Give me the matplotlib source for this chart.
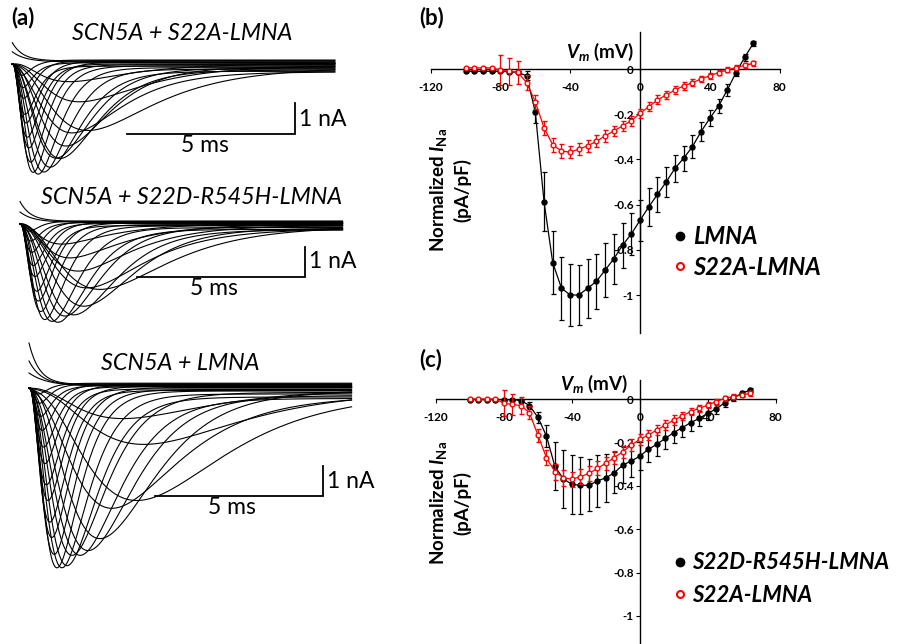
import numpy as np
import matplotlib
matplotlib.use('Agg')
import matplotlib.pyplot as plt
from matplotlib.lines import Line2D

plt.rcParams['font.family'] = ['Lato', 'DejaVu Sans']
plt.rcParams['mathtext.fontset'] = 'custom'
plt.rcParams['mathtext.it'] = 'Lato:italic:bold'
plt.rcParams['mathtext.rm'] = 'Lato:bold'
plt.rcParams['mathtext.bf'] = 'Lato:bold'

# ---------------- data: I-V curves ----------------
voltages = list(range(-100, 70, 5))
xticks_iv = [-120, -80, -40, 0, 40, 80]
yticks_iv = [0, -0.2, -0.4, -0.6, -0.8, -1]
ytick_labels = ['0', '-0.2', '-0.4', '-0.6', '-0.8', '-1']

lmna_b = [-0.01, -0.01, -0.01, -0.01, -0.01, -0.012, -0.015, -0.03, -0.19, -0.587,
          -0.857, -0.97, -1.0, -1.0, -0.97, -0.94, -0.89, -0.84, -0.78, -0.73,
          -0.67, -0.61, -0.555, -0.50, -0.44, -0.395, -0.344, -0.277, -0.218, -0.164,
          -0.093, -0.016, 0.052, 0.114]
lmna_b_err = [0.005, 0.005, 0.005, 0.005, 0.005, 0.005, 0.005, 0.02, 0.05, 0.13,
              0.14, 0.14, 0.135, 0.133, 0.13, 0.12, 0.118, 0.11, 0.10, 0.095,
              0.09, 0.083, 0.076, 0.065, 0.06, 0.055, 0.05, 0.042, 0.035, 0.03,
              0.025, 0.015, 0.015, 0.012]
s22a_b = [0.005, 0.005, 0.005, 0.005, -0.005, -0.01, -0.015, -0.06, -0.145, -0.26,
          -0.336, -0.363, -0.368, -0.354, -0.34, -0.32, -0.296, -0.274, -0.252, -0.229,
          -0.196, -0.167, -0.137, -0.115, -0.093, -0.075, -0.061, -0.044, -0.03, -0.016,
          -0.004, 0.006, 0.016, 0.025]
s22a_b_err = [0.005, 0.005, 0.005, 0.005, 0.065, 0.06, 0.05, 0.035, 0.03, 0.03,
              0.03, 0.03, 0.028, 0.027, 0.026, 0.026, 0.025, 0.024, 0.023, 0.022,
              0.021, 0.02, 0.02, 0.018, 0.017, 0.016, 0.015, 0.014, 0.013, 0.012,
              0.011, 0.01, 0.01, 0.01]
s22d_c = [-0.003, -0.003, -0.003, -0.003, -0.003, -0.003, -0.007, -0.03, -0.084, -0.17,
          -0.31, -0.368, -0.393, -0.398, -0.398, -0.378, -0.363, -0.34, -0.304, -0.286,
          -0.263, -0.232, -0.209, -0.181, -0.155, -0.132, -0.109, -0.089, -0.066, -0.046,
          -0.017, 0.005, 0.026, 0.041]
s22d_c_err = [0.004, 0.004, 0.004, 0.004, 0.004, 0.004, 0.004, 0.015, 0.025, 0.05,
              0.11, 0.135, 0.137, 0.13, 0.12, 0.118, 0.11, 0.095, 0.085, 0.075,
              0.065, 0.06, 0.055, 0.05, 0.048, 0.045, 0.04, 0.035, 0.03, 0.025,
              0.02, 0.012, 0.01, 0.01]
s22a_c = [0.0, 0.0, 0.0, 0.0, -0.02, -0.025, -0.03, -0.063, -0.166, -0.27,
          -0.335, -0.363, -0.37, -0.358, -0.343, -0.32, -0.296, -0.27, -0.243, -0.212,
          -0.186, -0.166, -0.143, -0.12, -0.097, -0.078, -0.058, -0.043, -0.028, -0.012,
          0.003, 0.011, 0.018, 0.026]
s22a_c_err = [0.004, 0.004, 0.004, 0.004, 0.06, 0.05, 0.04, 0.03, 0.03, 0.035,
              0.037, 0.037, 0.035, 0.035, 0.033, 0.032, 0.03, 0.029, 0.028, 0.027,
              0.025, 0.024, 0.023, 0.022, 0.021, 0.02, 0.018, 0.017, 0.015, 0.014,
              0.012, 0.011, 0.01, 0.01]

# ---------------- data: current-trace parameters ----------------
# inward traces: time-to-peak (ms), peak amplitude (nA), inactivation tau (ms), late current (nA)
s22a_tpk = [0.62, 0.77, 0.94, 1.12, 1.30, 1.42, 1.60, 1.78, 2.25, 2.00, 1.70,
            0.55, 0.50, 0.45, 0.42, 0.38, 0.35, 0.32, 0.30]
s22a_amp = [3.50, 3.50, 3.38, 3.15, 2.95, 2.90, 2.60, 2.00, 2.07, 1.20, 0.60,
            3.20, 2.80, 2.40, 2.00, 1.60, 1.20, 0.80, 0.45]
s22a_tauh = [0.45, 0.50, 0.60, 0.70, 0.80, 0.90, 1.00, 1.20, 1.90, 1.80, 1.80,
             0.40, 0.38, 0.36, 0.35, 0.33, 0.32, 0.30, 0.30]
s22a_late = [-0.06, -0.12, -0.17, -0.24, -0.14, -0.20, -0.09, -0.26, -0.11, -0.04, 0.02,
             -0.02, 0.06, 0.0, 0.09, -0.07, 0.11, 0.04, 0.13]
s22a_out_amp = [0.70, 0.40]
s22a_out_tau = [0.30, 0.35]
s22a_out_late = [0.13, 0.09]

s22d_tpk = [0.74, 0.95, 1.13, 1.34, 1.60, 1.90, 2.38, 1.99, 1.73, 1.49, 1.25,
            0.62, 0.55, 0.50, 0.45, 0.40, 0.36, 0.33, 0.30]
s22d_amp = [3.13, 3.13, 3.10, 2.97, 2.83, 2.60, 2.10, 1.97, 1.53, 1.13, 0.70,
            2.90, 2.60, 2.20, 1.80, 1.40, 1.00, 0.60, 0.30]
s22d_tauh = [0.50, 0.60, 0.70, 0.80, 0.95, 1.10, 1.80, 1.50, 1.50, 1.60, 1.60,
             0.45, 0.40, 0.38, 0.36, 0.34, 0.32, 0.30, 0.30]
s22d_late = [-0.06, -0.12, -0.18, -0.10, -0.20, -0.14, -0.08, -0.16, -0.04, 0.0, 0.03,
             -0.02, 0.04, -0.05, 0.06, 0.02, 0.08, 0.05, 0.10]
s22d_out_amp = [0.75, 0.40]
s22d_out_tau = [0.30, 0.35]
s22d_out_late = [0.12, 0.08]

lmna_tpk = [0.83, 0.98, 1.13, 1.28, 1.52, 1.76, 2.11, 2.47, 3.21, 3.42, 2.80,
            0.75, 0.68, 0.62, 0.57, 0.52, 0.48, 0.44, 0.40, 0.36, 0.33, 0.30]
lmna_amp = [5.90, 5.80, 5.63, 5.43, 5.23, 5.17, 4.90, 3.73, 3.57, 1.80, 1.00,
            5.50, 5.00, 4.40, 3.80, 3.20, 2.60, 2.00, 1.50, 1.00, 0.60, 0.30]
lmna_tauh = [0.55, 0.62, 0.70, 0.80, 0.90, 1.00, 1.20, 1.60, 2.10, 2.40, 2.40,
             0.50, 0.47, 0.44, 0.42, 0.40, 0.38, 0.36, 0.34, 0.32, 0.30, 0.30]
lmna_late = [-0.10, -0.20, -0.30, -0.15, -0.35, -0.25, -0.12, -0.28, -0.18, -0.08, -0.02,
             -0.05, 0.02, -0.08, 0.06, -0.03, 0.10, 0.04, 0.12, 0.08, 0.14, 0.16]
lmna_out_amp = [1.50, 0.90, 0.50]
lmna_out_tau = [0.30, 0.35, 0.45]
lmna_out_late = [0.15, 0.12, 0.10]

# ---------------- figure ----------------
W, H = 897, 644
fig = plt.figure(figsize=(W / 100, H / 100), dpi=100)


def px_axes(x0, y0, x1, y1):
    return fig.add_axes([x0 / W, 1 - y1 / H, (x1 - x0) / W, (y1 - y0) / H])


def ftext(x, y, s, **kw):
    fig.text(x / W, 1 - y / H, s, **kw)


def solve_tm(tpk, th):
    lo, hi = 1e-4, 1e3
    for _ in range(200):
        mid = 0.5 * (lo + hi)
        if mid * np.log(1 + 3 * th / mid) < tpk:
            lo = mid
        else:
            hi = mid
    return 0.5 * (lo + hi)


t = np.linspace(0, 9.6, 1200)
PX_MS = 33.6


def trace_panel(rect, x_start, y_base, px_na, tpk, amp, tauh, late,
                oamp, otau, olate, bar_px, title, title_xy, na_xy, ms_xy):
    x0, y0, x1, y1 = rect
    ax = px_axes(x0, y0, x1, y1)
    ax.set_xlim((x0 - x_start) / PX_MS, (x1 - x_start) / PX_MS)
    ax.set_ylim((y_base - y1) / px_na, (y_base - y0) / px_na)
    ax.axis('off')
    for tp, a, th, lt in zip(tpk, amp, tauh, late):
        tm = solve_tm(tp, th)
        f = (1 - np.exp(-t / tm)) ** 3 * np.exp(-t / th)
        fmax = (1 - np.exp(-tp / tm)) ** 3 * np.exp(-tp / th)
        i = -a * f / fmax + lt * (1 - np.exp(-t / 0.3))
        ax.plot(t, i, color='black', lw=0.8)
    for a, tau, lt in zip(oamp, otau, olate):
        i = a * np.exp(-t / tau) + lt * (1 - np.exp(-t / 0.3)) * np.exp(-t / 6)
        ax.plot(t, i, color='black', lw=0.8)
    # scale bar (5 ms, 1 nA)
    bx, by = bar_px
    t0 = (bx - x_start) / PX_MS
    i0 = (y_base - by) / px_na
    ax.plot([t0, t0 + 5, t0 + 5], [i0, i0, i0 + 1], color='black', lw=1.3,
            solid_joinstyle='miter')
    ftext(*title_xy, title, ha='center', va='center', fontsize=16.8, style='italic')
    ftext(*na_xy, '1 nA', ha='left', va='center', fontsize=16.5)
    ftext(*ms_xy, '5 ms', ha='center', va='center', fontsize=16.5)


trace_panel((0, 30, 400, 182), 12.3, 64, 30.5, s22a_tpk, s22a_amp, s22a_tauh, s22a_late,
            s22a_out_amp, s22a_out_tau, s22a_out_late, (127, 134),
            'SCN5A + S22A-LMNA', (182, 33), (299, 119), (205, 146))
trace_panel((0, 190, 400, 330), 20, 224, 30.0, s22d_tpk, s22d_amp, s22d_tauh, s22d_late,
            s22d_out_amp, s22d_out_tau, s22d_out_late, (137, 277),
            'SCN5A + S22D-R545H-LMNA', (192, 197), (309, 262), (214, 289))
trace_panel((0, 335, 400, 600), 29, 388, 30.0, lmna_tpk, lmna_amp, lmna_tauh, lmna_late,
            lmna_out_amp, lmna_out_tau, lmna_out_late, (155, 496),
            'SCN5A + LMNA', (180, 363), (327, 481), (232, 508))

ftext(11, 18, '(a)', fontsize=16, fontweight='bold', ha='left', va='center')
ftext(419, 18, '(b)', fontsize=16, fontweight='bold', ha='left', va='center')
ftext(419, 360, '(c)', fontsize=16, fontweight='bold', ha='left', va='center')


# ---------------- I-V panels ----------------
def iv_panel(x_zero, px_mv, y_zero, px_unit, ylo, ytop_spine, ybot_spine,
             black, black_err, red, red_err, black_label, vm_xy, ylab_xy,
             leg_xy, leg_spacing, leg_size):
    xl, xr = -125, 85
    yhi = 0.2
    ax = px_axes(x_zero + px_mv * xl, y_zero - px_unit * yhi,
                 x_zero + px_mv * xr, y_zero - px_unit * ylo)
    ax.set_xlim(xl, xr)
    ax.set_ylim(ylo, yhi)
    ax.patch.set_alpha(0)
    for s in ['top', 'right']:
        ax.spines[s].set_visible(False)
    ax.spines['left'].set_position(('data', 0))
    ax.spines['bottom'].set_position(('data', 0))
    ax.spines['bottom'].set_bounds(-120, 80)
    ax.spines['left'].set_bounds(ybot_spine, ytop_spine)
    for s in ['left', 'bottom']:
        ax.spines[s].set_linewidth(1.0)
    ax.set_xticks(xticks_iv)
    ax.set_xticklabels([str(v) for v in xticks_iv])
    ax.set_yticks(yticks_iv)
    ax.set_yticklabels(ytick_labels)
    ax.tick_params(axis='x', direction='out', length=3, width=0.8, pad=6.5, labelsize=8.5)
    ax.tick_params(axis='y', direction='out', length=3, width=0.8, pad=1.5, labelsize=8.5)
    for lab in ax.get_xticklabels() + ax.get_yticklabels():
        lab.set_fontweight('bold')
    ax.errorbar(voltages, black, yerr=black_err, fmt='-o', color='black', ms=3.6,
                lw=0.9, elinewidth=0.9, capsize=1.8, capthick=0.9, clip_on=False, zorder=3)
    ax.errorbar(voltages, red, yerr=red_err, fmt='-o', color='red', mfc='white', mec='red',
                mew=1.0, ms=3.4, lw=0.9, elinewidth=0.9, capsize=1.8, capthick=0.9,
                clip_on=False, zorder=4)
    ftext(*vm_xy, r'$V_m$ (mV)', ha='center', va='center', fontsize=13.5, fontweight='bold')
    ftext(*ylab_xy, 'Normalized $I_{\\mathrm{Na}}$\n(pA/pF)', ha='center', va='center',
          fontsize=13.5, fontweight='bold', rotation=90, linespacing=1.3,
          multialignment='center')
    handles = [Line2D([], [], ls='none', marker='o', color='black', ms=6),
               Line2D([], [], ls='none', marker='o', mfc='white', mec='red', mew=1.5, ms=5)]
    ax.legend(handles, [black_label, 'S22A-LMNA'], loc='center left',
              bbox_to_anchor=(leg_xy[0] / W, 1 - leg_xy[1] / H),
              bbox_transform=fig.transFigure, frameon=False, handlelength=0.6,
              handletextpad=0.25, labelspacing=leg_spacing, borderpad=0,
              borderaxespad=0,
              prop={'size': leg_size, 'weight': 'bold', 'style': 'italic'})
    return ax


iv_panel(640, 1.745, 69, 226, -1.2, 0.164, -1.168, lmna_b, lmna_b_err, s22a_b, s22a_b_err,
         'LMNA', (600, 52), (450, 190), (673, 252), 0.3, 17)
iv_panel(639.8, 1.6985, 399, 217, -1.128, 0.088, -1.128, s22d_c, s22d_c_err, s22a_c, s22a_c_err,
         'S22D-R545H-LMNA', (594, 384), (450, 503), (673, 579), 0.5, 16)

fig.savefig('out.png', dpi=100)
